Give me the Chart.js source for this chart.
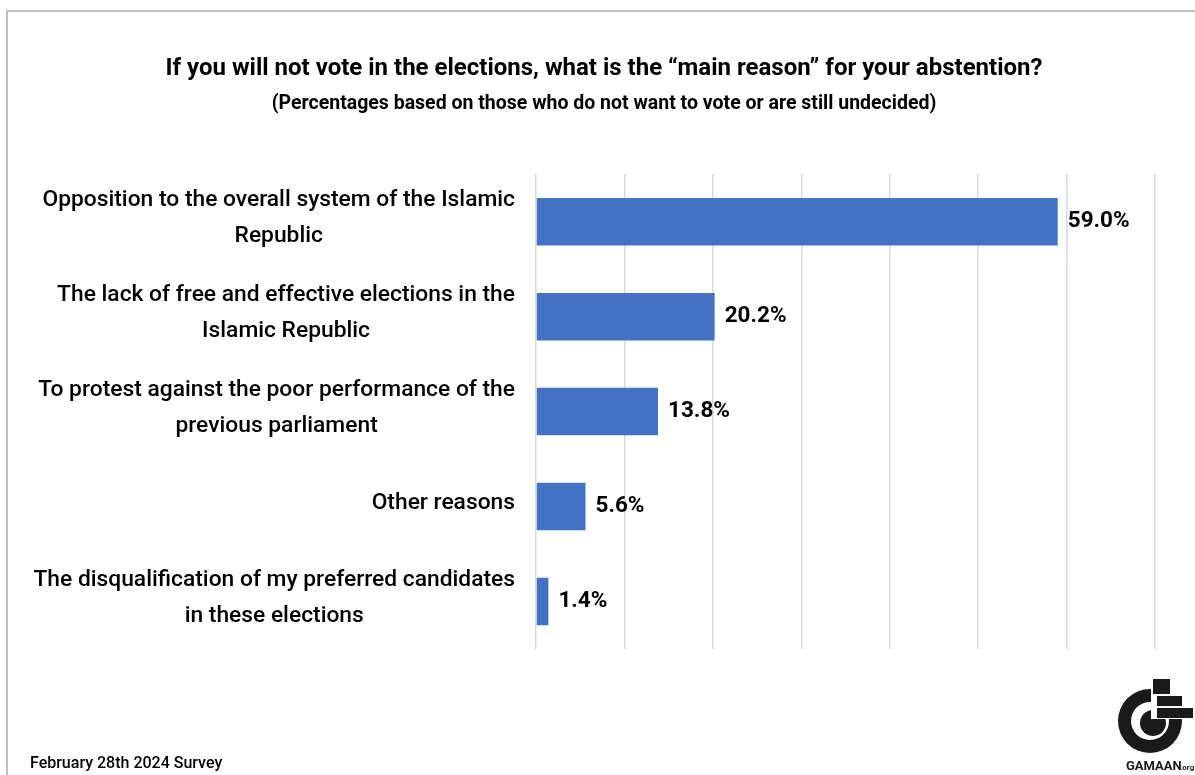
<!DOCTYPE html>
<html>
<head>
<meta charset="utf-8">
<title>Main reason for abstention</title>
<script src="https://cdn.jsdelivr.net/npm/chart.js@4.4.1/dist/chart.umd.min.js"></script>
<style>
  body { margin: 0; background: #fff; }
  canvas { display: block; }
</style>
</head>
<body>
<canvas id="AbstentionChart" width="1195" height="775"></canvas>
<script>

// Data

const reasons = [
  ['Opposition to the overall system of the Islamic', 'Republic'],
  ['The lack of free and effective elections in the', 'Islamic Republic'],
  ['To protest against the poor performance of the', 'previous parliament'],
  ['Other reasons'],
  ['The disqualification of my preferred candidates', 'in these elections']
];

const shares = [59.0, 20.2, 13.8, 5.6, 1.4];

const xTicks = [0, 10, 20, 30, 40, 50, 60, 70];

const FONT = 'Roboto, "Noto Sans", sans-serif';

// Frame, category labels, value labels, footer and logo

const extras =
{
  id: 'extras',
  beforeDraw(chart)
  {
    const c = chart.ctx;
    c.save();
    c.fillStyle = '#ffffff';
    c.fillRect(0, 0, chart.width, chart.height);
    c.strokeStyle = '#bfbfbf';
    c.lineWidth = 2;
    c.strokeRect(7, 11, 1220, 800);
    c.restore();
  },
  afterDatasetsDraw(chart)
  {
    const c = chart.ctx;
    const yScale = chart.scales.y;
    const meta = chart.getDatasetMeta(0);

    c.save();
    c.fillStyle = '#000000';
    c.textBaseline = 'middle';

    // category labels: block right aligned, lines centred inside the block
    c.font = '500 22.8px ' + FONT;
    reasons.forEach((lines, i) => {
      const mid = yScale.getPixelForValue(i) - 3.5;
      const widths = lines.map(l => c.measureText(l).width);
      const blockW = Math.max(...widths);
      const right = 515;
      const lineH = 36;
      const top = mid - (lines.length - 1) * lineH / 2;
      c.textAlign = 'center';
      lines.forEach((l, j) => {
        c.fillText(l, right - blockW / 2, top + j * lineH);
      });
    });

    // value labels
    c.font = 'bold 22.5px ' + FONT;
    c.textAlign = 'left';
    meta.data.forEach((bar, i) => {
      c.fillText(shares[i].toFixed(1) + '%', bar.x + 10, bar.y);
    });

    // footer
    c.font = '500 16px ' + FONT;
    c.textBaseline = 'alphabetic';
    c.fillText('February 28th 2024 Survey', 30, 768);

    // logo
    c.fillStyle = '#1a1a1a';
    c.beginPath();
    c.arc(1150, 721, 32, 0, Math.PI * 2);
    c.arc(1150, 721, 19, 0, Math.PI * 2, true);
    c.fill();
    c.beginPath();
    c.arc(1153, 723, 13, 0, Math.PI * 2);
    c.fill();
    c.fillStyle = '#ffffff';
    c.fillRect(1151, 676, 44, 43);
    c.fillStyle = '#1a1a1a';
    c.fillRect(1153, 679, 17, 15);
    c.fillRect(1157, 696, 25, 10);
    c.fillRect(1157, 708, 36, 10);
    c.font = 'bold 13px ' + FONT;
    c.fillText('GAMAAN', 1126, 770);
    c.font = 'bold 8px ' + FONT;
    c.fillText('.org', 1180, 770);

    c.restore();
  }
};

// Chart

const ctx = document.getElementById('AbstentionChart');

new Chart(ctx,
{
  type: 'bar',
  data:
  {
    labels: reasons,
    datasets:
    [
      {
        label: 'Main reason',
        data: shares,
        backgroundColor: '#4472c4',
        borderWidth: 0,
        barPercentage: 0.5,
        categoryPercentage: 1.0
      }
    ]
  },
  options:
  {
    indexAxis: 'y',
    responsive: false,
    animation: false,
    layout:
    {
      padding: { left: 53, right: 40, top: 0, bottom: 126 }
    },
    scales:
    {
      x:
      {
        min: xTicks[0],
        max: xTicks[xTicks.length - 1],
        afterBuildTicks: (scale) => { scale.ticks = xTicks.map(v => ({ value: v })); },
        ticks: { display: false },
        grid: { color: '#d9d9d9', lineWidth: 1.5, drawTicks: false },
        border: { display: false }
      },
      y:
      {
        ticks: { display: false },
        grid: { display: false, drawTicks: false },
        border: { display: false },
        afterFit: (scale) => { scale.width = 536 - 53; }
      }
    },
    plugins:
    {
      legend: { display: false },
      tooltip: { enabled: false },
      title:
      {
        display: true,
        text: 'If you will not vote in the elections, what is the \u201cmain reason\u201d for your abstention?',
        color: '#000000',
        font: { family: FONT, size: 24, weight: 'bold' },
        padding: { top: 55, bottom: 9 }
      },
      subtitle:
      {
        display: true,
        text: '(Percentages based on those who do not want to vote or are still undecided)',
        color: '#000000',
        font: { family: FONT, size: 19.5, weight: 'bold' },
        padding: { top: 0, bottom: 58 }
      }
    }
  },
  plugins: [extras]
});

</script>
</body>
</html>
